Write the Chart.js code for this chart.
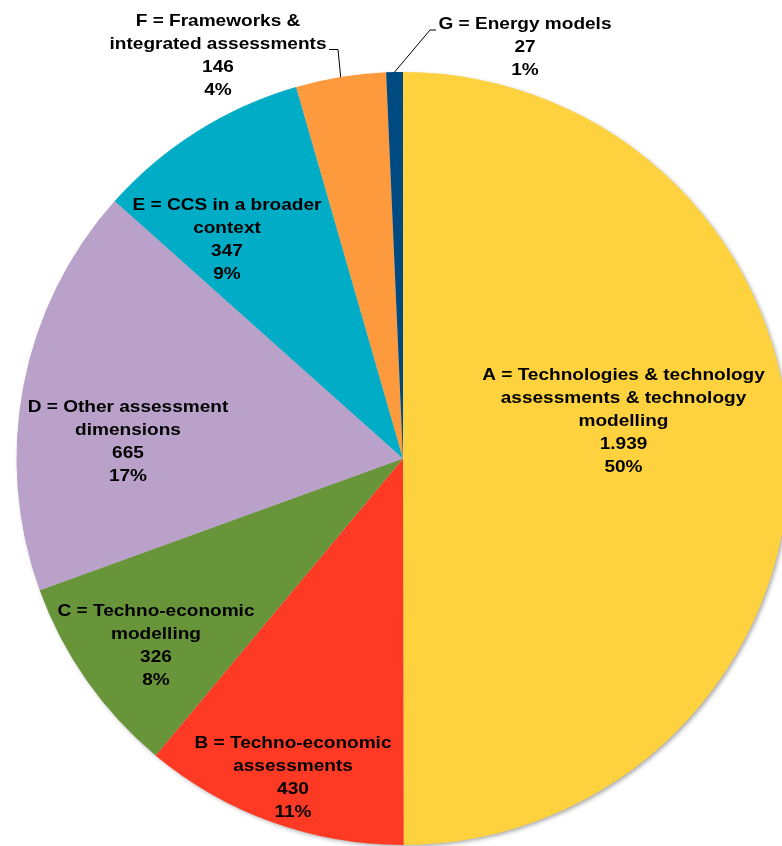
<!DOCTYPE html>
<html>
<head>
<meta charset="utf-8">
<script src="https://cdn.jsdelivr.net/npm/chart.js@4.4.0/dist/chart.umd.min.js"></script>
<style>
  html, body { margin: 0; padding: 0; background: #fff; overflow: hidden; }
  #wrap { position: relative; width: 810px; height: 846px; }
</style>
</head>
<body>
<div id="wrap"><canvas id="c" width="810" height="846"></canvas></div>
<script>
const categories = [
  ["A = Technologies & technology", "assessments & technology", "modelling"],
  ["B = Techno-economic", "assessments"],
  ["C = Techno-economic", "modelling"],
  ["D = Other assessment", "dimensions"],
  ["E = CCS in a broader", "context"],
  ["F = Frameworks &", "integrated assessments"],
  ["G = Energy models"]
];
const counts = [1939, 430, 326, 665, 347, 146, 27];
const colors = ["#FED23F", "#FF3A24", "#69953A", "#B9A1C9", "#00ACC6", "#FE9A3E", "#004A82"];

const total = counts.reduce((a, b) => a + b, 0);
function fmtNum(n) { return String(n).replace(/\B(?=(\d{3})+(?!\d))/g, "."); }

// label block centres relative to the pie centre, and leader line elbows
const labelPlace = [
  { dx: 220.5, dy: -37 },
  { dx: -110, dy: 319.5 },
  { dx: -247, dy: 187 },
  { dx: -275, dy: -17 },
  { dx: -176, dy: -219 },
  { dx: -185, dy: -403, leader: { ex: -65, ey: -409, tx: -74 } },
  { dx: 122, dy: -411, leader: { ex: 27, ey: -428.5, tx: 33 } }
];

const shadowPlugin = {
  id: 'shadow',
  beforeDatasetsDraw(chart) {
    const arc = chart.getDatasetMeta(0).data[0];
    if (!arc) return;
    const ctx = chart.ctx;
    ctx.save();
    ctx.shadowColor = 'rgba(0,0,0,0.35)';
    ctx.shadowBlur = 4;
    ctx.shadowOffsetX = 2;
    ctx.shadowOffsetY = 2;
    ctx.fillStyle = '#ccc';
    ctx.beginPath();
    ctx.arc(arc.x, arc.y, arc.outerRadius - 0.5, 0, Math.PI * 2);
    ctx.fill();
    ctx.restore();
  }
};

const labelPlugin = {
  id: 'sliceLabels',
  afterDatasetsDraw(chart) {
    const ctx = chart.ctx;
    const meta = chart.getDatasetMeta(0);
    const sx = 1.12;
    const lh = 23;
    meta.data.forEach((arc, i) => {
      const p = labelPlace[i];
      const lines = categories[i].concat([fmtNum(counts[i]), Math.round(counts[i] / total * 100) + '%']);
      const cx = arc.x + p.dx, cy = arc.y + p.dy;
      const y0 = cy - (lines.length - 1) * lh / 2;
      ctx.save();
      ctx.font = 'bold 17px "Liberation Sans", Arial, sans-serif';
      ctx.fillStyle = '#000';
      ctx.textAlign = 'center';
      ctx.textBaseline = 'middle';
      ctx.translate(cx, 0);
      ctx.scale(sx, 1);
      lines.forEach((t, k) => ctx.fillText(t, 0, y0 + k * lh));
      ctx.restore();
      if (p.leader) {
        const mid = (arc.startAngle + arc.endAngle) / 2;
        const px = arc.x + Math.cos(mid) * arc.outerRadius;
        const py = arc.y + Math.sin(mid) * arc.outerRadius;
        ctx.save();
        ctx.beginPath();
        ctx.strokeStyle = '#000';
        ctx.lineWidth = 1;
        ctx.moveTo(px, py);
        ctx.lineTo(arc.x + p.leader.ex, arc.y + p.leader.ey);
        ctx.lineTo(arc.x + p.leader.tx, arc.y + p.leader.ey);
        ctx.stroke();
        ctx.restore();
      }
    });
  }
};

new Chart(document.getElementById('c'), {
  type: 'pie',
  data: {
    labels: categories.map(c => c.join(' ')),
    datasets: [{
      data: counts,
      backgroundColor: colors,
      borderWidth: 0
    }]
  },
  options: {
    responsive: false,
    animation: false,
    layout: { padding: { left: 16.5, right: 20.5, top: 72, bottom: 1 } },
    plugins: { legend: { display: false }, tooltip: { enabled: false } }
  },
  plugins: [shadowPlugin, labelPlugin]
});
</script>
</body>
</html>
